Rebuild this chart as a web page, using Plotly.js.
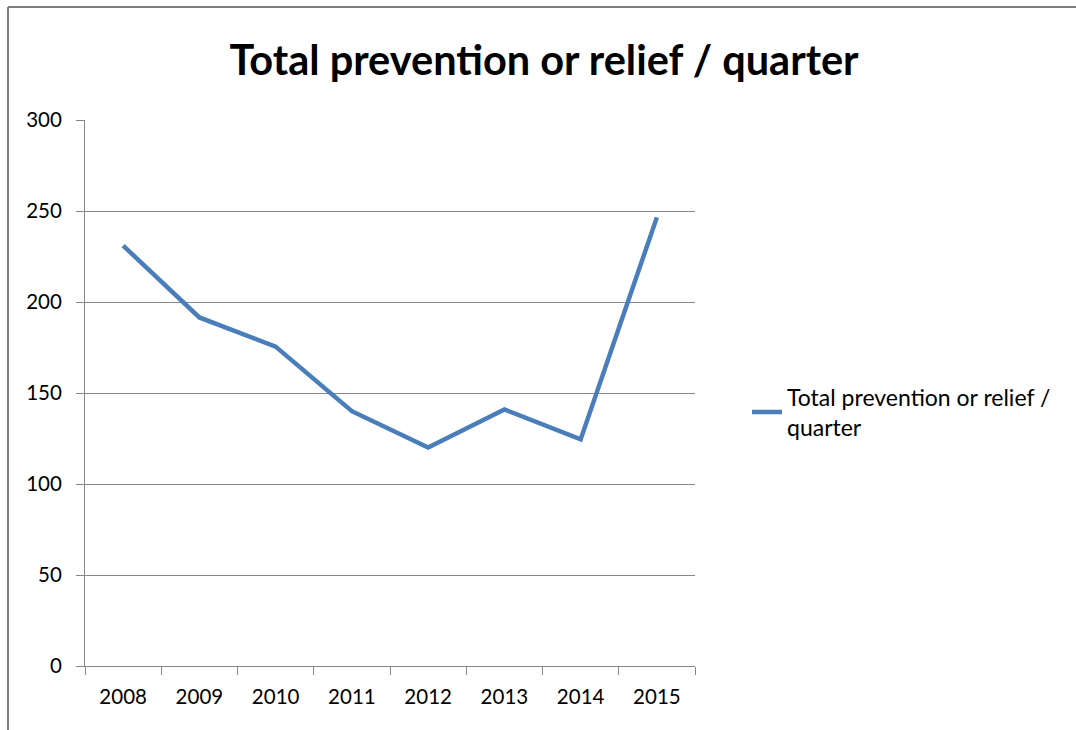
<!DOCTYPE html>
<html><head><meta charset="utf-8">
<script src="https://cdn.plot.ly/plotly-3.0.1.min.js"></script>
<style>html,body{margin:0;padding:0;background:#fff}</style>
</head><body>
<div id="chart" style="width:1076px;height:730px"></div>
<script>
var years = ['2008','2009','2010','2011','2012','2013','2014','2015'];
var values = [231, 191.5, 175.5, 140, 120, 141, 124.5, 246.5];
var seriesName = 'Total prevention or relief /<br>quarter';
var titleText = 'Total prevention or relief / quarter';

var font = 'Lato, "Open Sans", sans-serif';
var L = 85, R = 381, T = 120, B = 64;
var pw = 1076 - L - R, ph = 730 - T - B;
function px2x(p){ return (p - L) / pw; }
function py2y(p){ return (730 - B - p) / ph; }

var trace = {
  x: years, y: values, type: 'scatter', mode: 'lines', name: seriesName,
  line: {color: '#4a7ebb', width: 4.5}, showlegend: true
};
var layout = {
  width: 1076, height: 730,
  margin: {l: L, r: R, t: T, b: B},
  paper_bgcolor: '#fff', plot_bgcolor: '#fff',
  font: {family: font, color: '#000', size: 20},
  title: {text: '<b>' + titleText + '</b>', font: {family: font, size: 41.5, color: '#000'},
          x: 544/1076, xanchor: 'center', y: 1 - 60/730, yanchor: 'middle'},
  xaxis: {type: 'category', range: [-0.5, years.length - 0.5], showgrid: false, showline: true,
          linecolor: '#868686', linewidth: 1,
          ticks: 'outside', ticklen: 8, tickcolor: '#868686', tickson: 'boundaries',
          ticklabelstandoff: 12,
          tickfont: {size: 20.5, family: font, color: '#000'}, zeroline: false, fixedrange: true},
  yaxis: {range: [0, 300], dtick: 50, tick0: 0, showgrid: true, gridcolor: '#868686', gridwidth: 1,
          showline: true, linecolor: '#868686', linewidth: 1, ticks: 'outside', ticklen: 8,
          tickcolor: '#868686', tickfont: {size: 20.5, family: font, color: '#000'}, zeroline: false,
          ticklabelstandoff: 10, fixedrange: true},
  legend: {x: px2x(747), y: py2y(412), xanchor: 'left', yanchor: 'middle',
           font: {size: 23, family: font, color: '#000'}, bgcolor: 'rgba(0,0,0,0)', itemwidth: 30},
  shapes: [
    {type: 'line', xref: 'paper', yref: 'paper', x0: px2x(8), x1: px2x(1076), y0: py2y(7), y1: py2y(7),
     line: {color: '#7f7f7f', width: 2}},
    {type: 'line', xref: 'paper', yref: 'paper', x0: px2x(8), x1: px2x(8), y0: py2y(7), y1: py2y(730),
     line: {color: '#7f7f7f', width: 2}}
  ]
};
Plotly.newPlot('chart', [trace], layout, {staticPlot: true, displayModeBar: false});
</script>
</body></html>
